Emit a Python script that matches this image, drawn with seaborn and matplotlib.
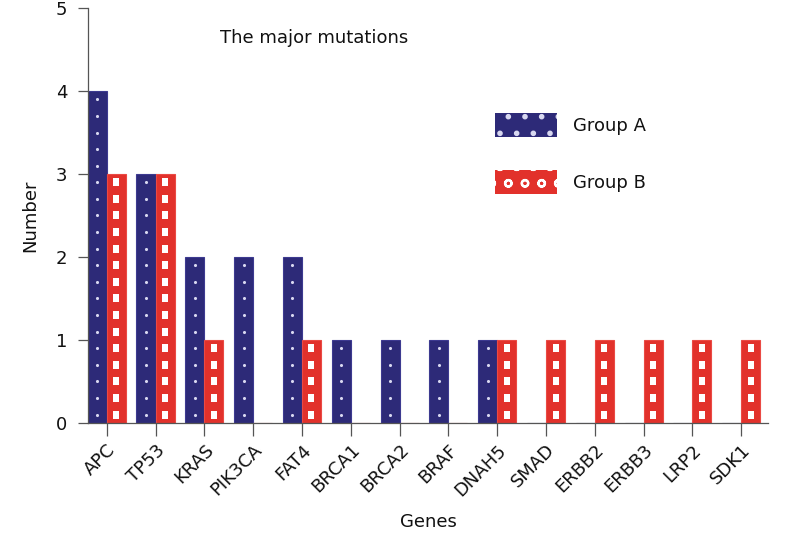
import numpy
import pandas
import seaborn as sns
from matplotlib import pyplot
from matplotlib.patches import Patch

sns.set_style("white")
pyplot.rcParams['font.family'] = ['DejaVu Sans']
pyplot.rcParams['hatch.linewidth'] = 1.6

genes = ['APC', 'TP53', 'KRAS', 'PIK3CA', 'FAT4', 'BRCA1', 'BRCA2', 'BRAF',
         'DNAH5', 'SMAD', 'ERBB2', 'ERBB3', 'LRP2', 'SDK1']
group_a = [4, 3, 2, 2, 2, 1, 1, 1, 1, 0, 0, 0, 0, 0]
group_b = [3, 3, 1, 0, 1, 0, 0, 0, 1, 1, 1, 1, 1, 1]

BLUE = '#2d2a78'
RED = '#e2312b'
RECT = [(-0.6, -1), (0.6, -1), (0.6, 1), (-0.6, 1), (-0.6, -1)]


def build_df():
    tmp_a = pandas.DataFrame({'Genes': genes, 'Number': group_a, 'Group': 'Group A'})
    tmp_b = pandas.DataFrame({'Genes': genes, 'Number': group_b, 'Group': 'Group B'})
    return pandas.concat([tmp_a, tmp_b], ignore_index=True)


def decorate_bars(ax, n):
    # white dots (group A) / white little squares (group B) running up each bar
    for i, p in enumerate(ax.patches):
        h = p.get_height()
        if h <= 0:
            continue
        xc = p.get_x() + p.get_width() / 2
        ys = numpy.arange(0.1, h, 0.2)
        if i < n:
            ax.scatter(numpy.full(len(ys), xc), ys, s=5, color='#d8d8f0',
                       marker='o', linewidths=0, zorder=3)
        else:
            ax.scatter(numpy.full(len(ys), xc), ys, s=40, color='white',
                       marker=RECT, linewidths=0, zorder=3)


def plot_mutations(plot_df):
    fig = pyplot.figure(figsize=(7.87, 5.4), dpi=100)
    ax = fig.add_axes([0.112, 0.217, 0.864, 0.768])

    sns.barplot(data=plot_df, x='Genes', y='Number', hue='Group', order=genes,
                hue_order=['Group A', 'Group B'], palette=[BLUE, RED],
                width=0.78, gap=0, saturation=1, legend=False, ax=ax)

    n = len(genes)
    for i, p in enumerate(ax.patches):
        p.set_edgecolor('#3d3a90' if i < n else '#ea4a44')
        p.set_linewidth(0.8)
    decorate_bars(ax, n)

    ax.set_xlim(-0.38, n - 1 + 0.55)
    ax.set_ylim(0, 5)
    ax.set_yticks(range(6))
    sns.despine(ax=ax)
    for s in ['left', 'bottom']:
        ax.spines[s].set_color('#555555')
        ax.spines[s].set_linewidth(0.9)
    ax.tick_params(axis='both', direction='out', length=7, width=0.9,
                   color='#555555', labelsize=13, left=True, bottom=True,
                   labelcolor='#111111')
    ax.tick_params(axis='y', pad=8)
    ax.tick_params(axis='x', length=9, pad=4)
    pyplot.setp(ax.get_xticklabels(), rotation=45, ha='right', rotation_mode='anchor')

    ax.set_xlabel('Genes', fontsize=13, labelpad=10, color='#111111')
    ax.set_ylabel('Number', fontsize=13, labelpad=12, color='#111111')

    fig.text(0.28, 0.93, 'The major mutations', fontsize=13, va='center', color='#111111')

    handles = [Patch(facecolor=BLUE, edgecolor='#d8d8f0', linewidth=0, hatch='.', label='Group A'),
               Patch(facecolor=RED, edgecolor='white', linewidth=0, hatch='o', label='Group B')]
    leg = ax.legend(handles=handles, loc='upper left', bbox_to_anchor=(0.575, 0.786),
                    frameon=False, fontsize=13, handlelength=3.4, handleheight=1.7,
                    labelspacing=1.8, handletextpad=0.9)
    for t in leg.get_texts():
        t.set_color('#111111')

    pyplot.savefig('out.png', dpi=100)


if __name__ == '__main__':
    mutation_df = build_df()
    plot_mutations(mutation_df)
